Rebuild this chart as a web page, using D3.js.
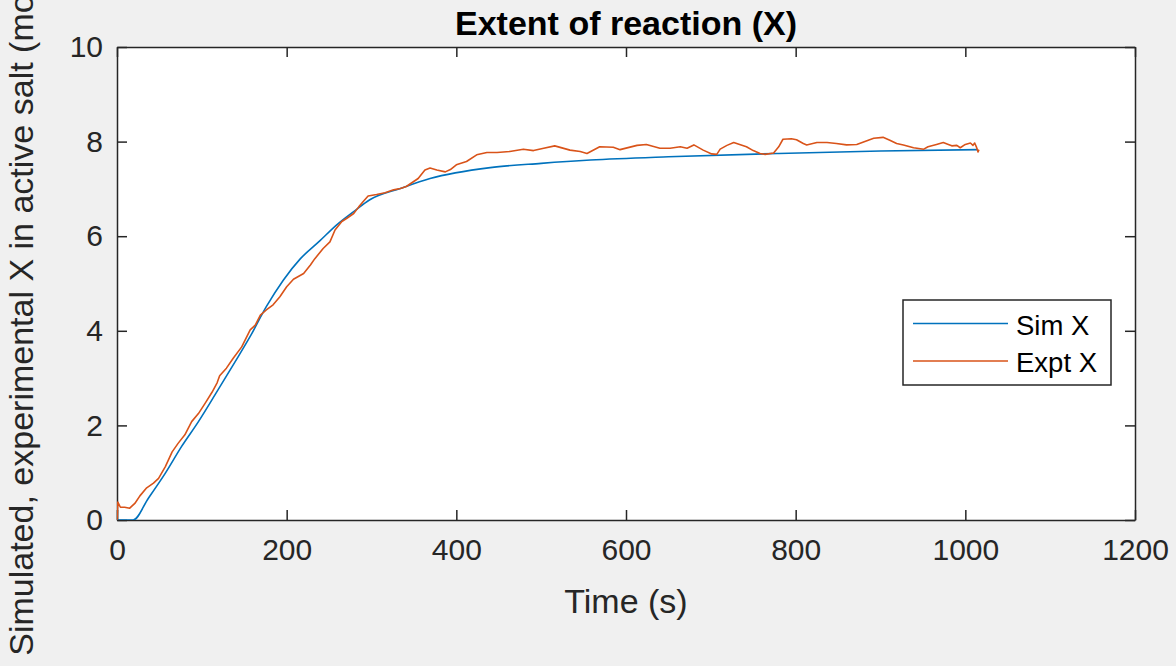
<!DOCTYPE html>
<html>
<head>
<meta charset="utf-8">
<script src="https://cdn.jsdelivr.net/npm/d3@7"></script>
<style>
  body { margin: 0; background: #f0f0f0; }
  svg { display: block; font-family: "Liberation Sans", Arial, Helvetica, sans-serif; }
</style>
</head>
<body>
<script>
'use strict'

// simulated extent of reaction
const simTime = [0, 19, 37, 57, 76, 96, 116, 137, 157, 176, 196, 216, 239, 259, 279, 298, 334, 369, 440, 500, 558, 650, 780, 900, 1015]
const simX = [0, 0, 0.46, 0.99, 1.55, 2.08, 2.66, 3.28, 3.88, 4.51, 5.07, 5.52, 5.9, 6.24, 6.52, 6.77, 7.01, 7.22, 7.45, 7.54, 7.61, 7.68, 7.75, 7.8, 7.83]

// experimental extent of reaction
const exptTime = [0, 1, 4, 9, 15, 21, 27, 35, 43, 49, 57, 65, 72, 80, 88, 96, 104, 112, 118, 121, 129, 137, 147, 157, 163, 169, 176, 184, 192, 200,
  208, 220, 228, 233, 243, 251, 257, 265, 271, 279, 285, 290, 296, 306, 316, 326, 334, 341, 355, 363, 369, 377, 387, 393, 400,
  412, 424, 436, 448, 463, 479, 491, 503, 516, 534, 546, 554, 569, 585, 593, 613, 624, 640, 652, 664, 672, 680, 691, 701, 707,
  711, 719, 727, 734, 742, 750, 758, 764, 774, 780, 785, 795, 801, 809, 813, 825, 837, 848, 860, 872, 884, 892, 903, 911, 919,
  927, 939, 951, 956, 966, 974, 980, 984, 990, 994, 1000, 1006, 1009, 1011, 1013, 1015, 1016]
const exptX = [0, 0.38, 0.27, 0.27, 0.25, 0.35, 0.51, 0.68, 0.78, 0.88, 1.13, 1.44, 1.62, 1.8, 2.08, 2.25, 2.47, 2.7, 2.9, 3.05, 3.21, 3.42, 3.66, 4.02, 4.12, 4.33, 4.44, 4.55, 4.72, 4.93,
  5.09, 5.21, 5.39, 5.52, 5.74, 5.88, 6.13, 6.31, 6.38, 6.48, 6.62, 6.73, 6.85, 6.88, 6.92, 6.98, 7.01, 7.05, 7.22, 7.4, 7.44, 7.4, 7.36, 7.41, 7.51,
  7.58, 7.72, 7.77, 7.77, 7.79, 7.84, 7.81, 7.86, 7.91, 7.82, 7.79, 7.75, 7.89, 7.88, 7.83, 7.92, 7.94, 7.86, 7.86, 7.89, 7.86, 7.93, 7.82, 7.74, 7.73,
  7.84, 7.92, 7.98, 7.94, 7.89, 7.81, 7.75, 7.73, 7.76, 7.89, 8.05, 8.06, 8.04, 7.96, 7.93, 7.98, 7.98, 7.96, 7.93, 7.94, 8.02, 8.07, 8.09, 8.03, 7.96,
  7.93, 7.87, 7.84, 7.89, 7.94, 7.98, 7.94, 7.91, 7.92, 7.87, 7.94, 7.97, 7.92, 7.97, 7.89, 7.78, 7.83]

const xTicks = [0, 200, 400, 600, 800, 1000, 1200]
const yTicks = [0, 2, 4, 6, 8, 10]
const seriesNames = ['Sim X', 'Expt X']
const seriesColors = ['#0072BD', '#D95319']

const W = 1176, H = 666
const margin = {top: 47, right: 41, bottom: 146, left: 117}
const width = W - margin.left - margin.right,
      height = H - margin.top - margin.bottom
const ink = '#262626'

const x = d3.scaleLinear().domain([0, 1200]).range([0, width])
const y = d3.scaleLinear().domain([0, 10]).range([height, 0])

const svg = d3.select('body').append('svg')
  .attr('width', W)
  .attr('height', H)

svg.append('rect').attr('width', W).attr('height', H).attr('fill', '#f0f0f0')

const g = svg.append('g')
  .attr('transform', 'translate(' + [margin.left, margin.top] + ')')

g.append('rect')
  .attr('width', width)
  .attr('height', height)
  .attr('fill', '#fff')

g.append('clipPath').attr('id', 'clip')
  .append('rect').attr('width', width).attr('height', height)

// axes, ticks inward on all four sides
const tickFont = '30px'
const fmt = d3.format('d')
const styleAxis = function(sel, showLabels){
  sel.select('.domain').attr('stroke', ink).attr('stroke-width', 1.5)
  sel.selectAll('.tick line').attr('stroke', ink).attr('stroke-width', 1.5)
  sel.selectAll('.tick text')
    .attr('fill', ink)
    .style('font-size', tickFont)
    .style('display', showLabels ? null : 'none')
}

g.append('g')
  .attr('transform', 'translate(0,' + height + ')')
  .call(d3.axisBottom(x).tickValues(xTicks).tickFormat(fmt).tickSizeInner(-10).tickSizeOuter(0).tickPadding(19))
  .call(styleAxis, true)

g.append('g')
  .call(d3.axisTop(x).tickValues(xTicks).tickSizeInner(-10).tickSizeOuter(0))
  .call(styleAxis, false)

g.append('g')
  .call(d3.axisLeft(y).tickValues(yTicks).tickFormat(fmt).tickSizeInner(-10).tickSizeOuter(0).tickPadding(14))
  .call(styleAxis, true)

g.append('g')
  .attr('transform', 'translate(' + width + ',0)')
  .call(d3.axisRight(y).tickValues(yTicks).tickSizeInner(-10).tickSizeOuter(0))
  .call(styleAxis, false)

// lines
const simData = simTime.map((t, i) => [t, simX[i]])
const exptData = exptTime.map((t, i) => [t, exptX[i]])

const simLine = d3.line()
  .x(d => x(d[0]))
  .y(d => y(d[1]))
  .curve(d3.curveMonotoneX)

const exptLine = d3.line()
  .x(d => x(d[0]))
  .y(d => y(d[1]))

const plot = g.append('g').attr('clip-path', 'url(#clip)')

plot.append('path')
  .attr('d', simLine(simData))
  .attr('fill', 'none')
  .attr('stroke', seriesColors[0])
  .attr('stroke-width', 1.6)

plot.append('path')
  .attr('d', exptLine(exptData))
  .attr('fill', 'none')
  .attr('stroke', seriesColors[1])
  .attr('stroke-width', 1.6)
  .attr('stroke-linejoin', 'round')

// title and axis labels
svg.append('text')
  .attr('x', margin.left + width / 2)
  .attr('y', 35)
  .attr('text-anchor', 'middle')
  .attr('fill', '#000')
  .style('font-size', '34px')
  .style('font-weight', 'bold')
  .text('Extent of reaction (X)')

svg.append('text')
  .attr('x', margin.left + width / 2)
  .attr('y', 613)
  .attr('text-anchor', 'middle')
  .attr('fill', ink)
  .style('font-size', '34px')
  .text('Time (s)')

// ylabel runs past the figure edges, as in the original
svg.append('text')
  .attr('transform', 'translate(' + [33, margin.top + height / 2] + ') rotate(-90)')
  .attr('text-anchor', 'middle')
  .attr('fill', ink)
  .style('font-size', '34px')
  .text('Simulated, experimental X in active salt (mol/mol)')

// legend
const legend = svg.append('g').attr('transform', 'translate(903,300)')
legend.append('rect')
  .attr('width', 208)
  .attr('height', 85)
  .attr('fill', '#fff')
  .attr('stroke', ink)
  .attr('stroke-width', 1.5)

seriesNames.forEach((name, i) => {
  const row = legend.append('g').attr('transform', 'translate(0,' + (23.5 + i * 37.5) + ')')
  row.append('line')
    .attr('x1', 10).attr('x2', 105)
    .attr('stroke', seriesColors[i])
    .attr('stroke-width', 1.6)
  row.append('text')
    .attr('x', 113)
    .attr('y', 11)
    .attr('fill', '#000')
    .style('font-size', '27.5px')
    .text(name)
})
</script>
</body>
</html>
